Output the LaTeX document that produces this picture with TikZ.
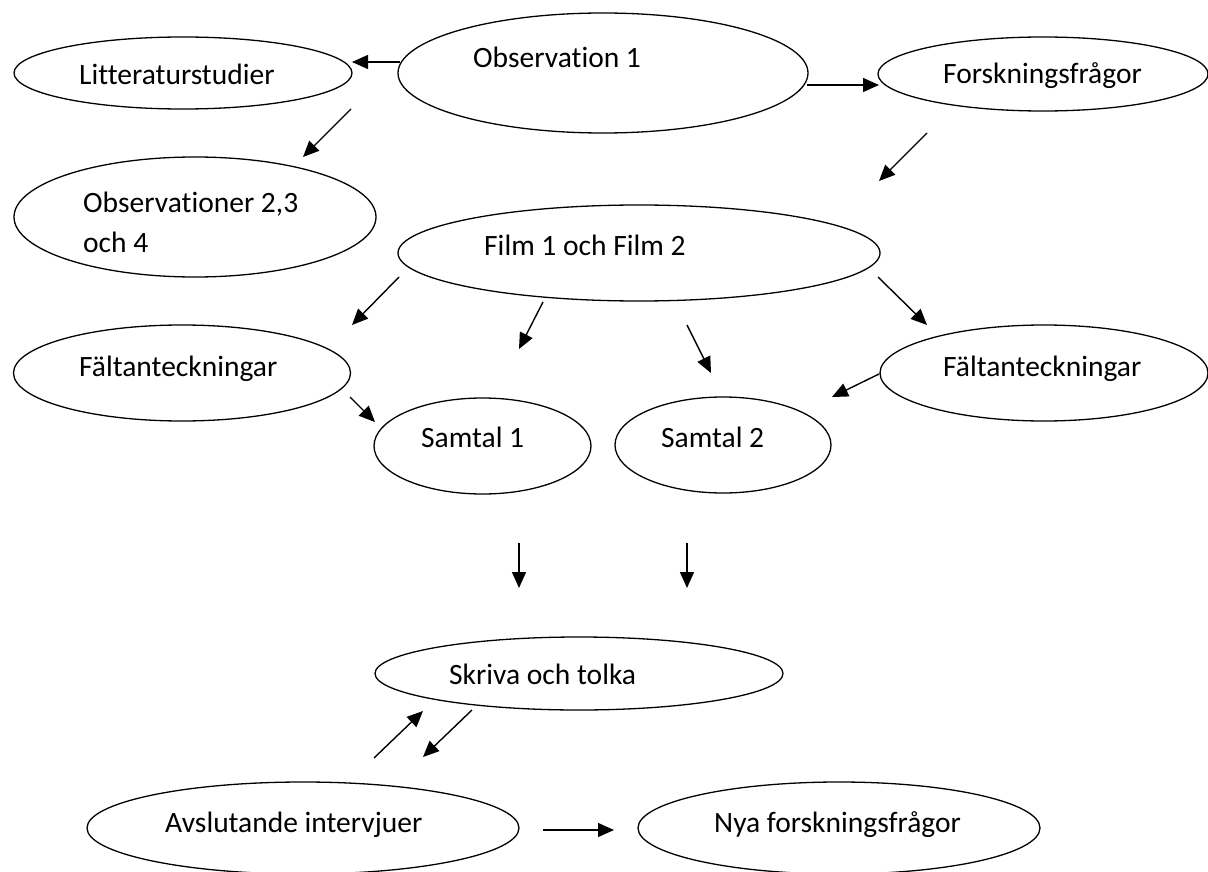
\documentclass[tikz,border=0pt]{standalone}
\usepackage{fontspec}
\setmainfont{Carlito}[Ligatures={NoCommon}]
\usetikzlibrary{shapes.geometric,arrows.meta}
\begin{document}
\begin{tikzpicture}[x=1pt,y=-1pt,
  ell/.style={draw,ellipse,line width=1.3pt,inner sep=0pt},
  lbl/.style={anchor=base west,inner sep=0pt,font=\fontsize{29.5}{40}\selectfont},
  arr/.style={line width=1.4pt,-{Triangle[length=16pt,width=14pt]}}]
\useasboundingbox (0,0) rectangle (1208,872);
% ellipses
\node[ell,minimum width=338pt,minimum height=72pt] (lit) at (183,73) {};
\node[ell,minimum width=410pt,minimum height=120pt] (obs1) at (603,73) {};
\node[ell,minimum width=330pt,minimum height=74pt] (fors) at (1043,74) {};
\node[ell,minimum width=362pt,minimum height=120pt] (obs2) at (195,217) {};
\node[ell,minimum width=482pt,minimum height=96pt] (film) at (639,253) {};
\node[ell,minimum width=337pt,minimum height=96pt] (falt1) at (182,373) {};
\node[ell,minimum width=328pt,minimum height=96pt] (falt2) at (1044,373) {};
\node[ell,minimum width=217pt,minimum height=96pt] (sam1) at (482.5,446) {};
\node[ell,minimum width=216pt,minimum height=96pt] (sam2) at (723,445) {};
\node[ell,minimum width=408pt,minimum height=73pt] (skr) at (579,673.5) {};
\node[ell,minimum width=432pt,minimum height=92pt] (avs) at (303,828) {};
\node[ell,minimum width=402pt,minimum height=92pt] (nya) at (839,828) {};
% texts
\node[lbl] (tlit) at (79,85) {Litteraturstudier};
\node[lbl] (tobs1) at (473,68) {Observation 1};
\node[lbl] (tfors) at (943,84) {Forskningsfrågor};
\node[lbl] (tobs2a) at (83,212) {Observationer 2,3};
\node[lbl] (tobs2b) at (83,252) {och 4};
\node[lbl] (tfilm) at (484,255) {Film 1 och Film 2};
\node[lbl] (tfalt1) at (79,376) {Fältanteckningar};
\node[lbl] (tfalt2) at (943,376) {Fältanteckningar};
\node[lbl] (tsam1) at (421,447) {Samtal 1};
\node[lbl] (tsam2) at (661,447) {Samtal 2};
\node[lbl] (tskr) at (449,684) {Skriva och tolka};
\node[lbl] (tavs) at (165,832) {Avslutande intervjuer};
\node[lbl] (tnya) at (714,832) {Nya forskningsfrågor};
% arrow end points
\coordinate (a1s) at (400,62);  \coordinate (a1e) at (352,62);
\coordinate (a2s) at (807,85);  \coordinate (a2e) at (879,85);
\coordinate (a3s) at (351,109); \coordinate (a3e) at (303,157);
\coordinate (a4s) at (927,133); \coordinate (a4e) at (879,181);
\coordinate (a5s) at (399,277); \coordinate (a5e) at (352,325);
\coordinate (a6s) at (543,302); \coordinate (a6e) at (519,349);
\coordinate (a7s) at (687,325); \coordinate (a7e) at (711,373);
\coordinate (a8s) at (878,277); \coordinate (a8e) at (927,325);
\coordinate (a9s) at (350,397); \coordinate (a9e) at (375,422);
\coordinate (a10s) at (879,374); \coordinate (a10e) at (832,397);
\coordinate (a11s) at (519,543); \coordinate (a11e) at (519,588);
\coordinate (a12s) at (687,543); \coordinate (a12e) at (687,588);
\coordinate (a13s) at (374,758); \coordinate (a13e) at (423,711);
\coordinate (a14s) at (472,710); \coordinate (a14e) at (423,757);
\coordinate (a15s) at (543,830); \coordinate (a15e) at (614,830);
\foreach \i in {1,...,15} {\draw[arr] (a\i s) -- (a\i e);}
\end{tikzpicture}
\end{document}
